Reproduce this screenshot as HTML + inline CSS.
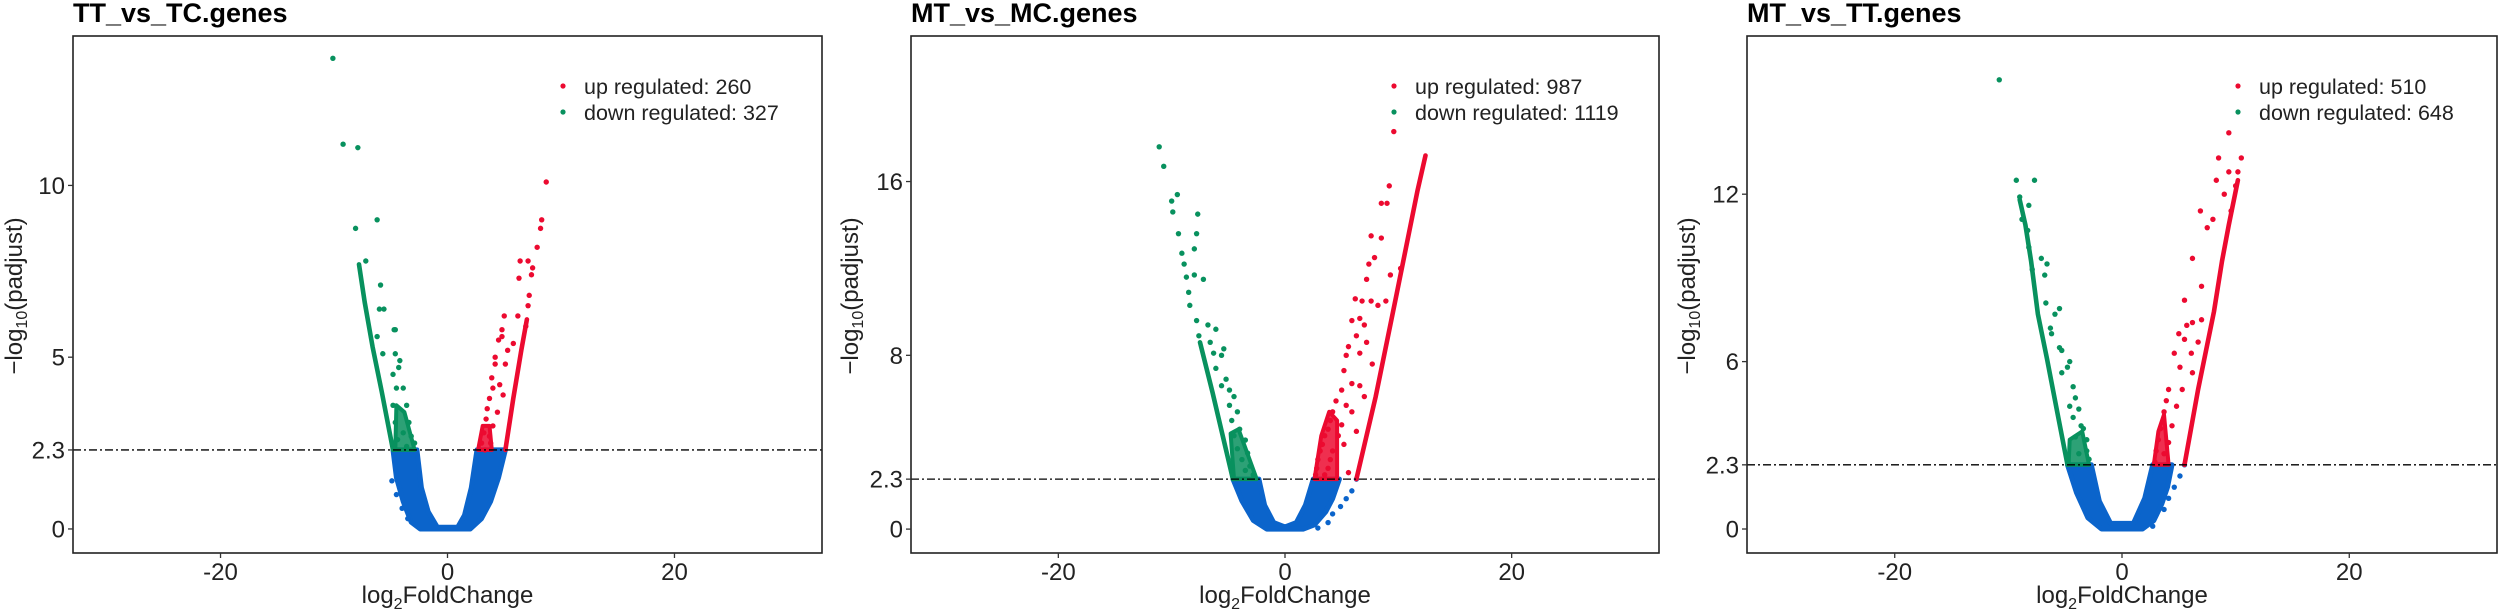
<!DOCTYPE html>
<html><head><meta charset="utf-8"><style>
html,body{margin:0;padding:0;background:#fff;}
svg{display:block;font-family:"Liberation Sans",Arial,sans-serif;}
</style></head><body>
<svg id="chart" width="2500" height="611" viewBox="0 0 2500 611" xmlns="http://www.w3.org/2000/svg"></svg>
<script>
// ---------- data (log2FoldChange, -log10 padjust) ----------
const titles = ["TT_vs_TC.genes","MT_vs_MC.genes","MT_vs_TT.genes"];
const upCounts = [260, 987, 510];
const downCounts = [327, 1119, 648];
const xTickLabels = [-20, 0, 20];
const yTicks1 = [0, 2.3, 5, 10];
const yTicks2 = [0, 2.3, 8, 16];
const yTicks3 = [0, 2.3, 6, 12];
const threshold = 2.3;

// blue (not significant) region outlines
const blue1 = [[-4.8,2.3],[-4.5,1.5],[-3.9,0.8],[-3.2,0.2],[-2.4,0],[2.0,0],[3.0,0.3],[3.8,0.8],[4.5,1.5],[5.1,2.3],[2.6,2.3],[2.1,1.2],[1.5,0.4],[0.9,0.05],[-0.9,0.05],[-1.7,0.5],[-2.3,1.2],[-2.7,2.3]];
const blue2 = [[-4.6,2.3],[-3.8,1.3],[-2.8,0.4],[-1.6,0],[1.6,0],[2.6,0.2],[3.6,0.8],[4.2,1.4],[4.8,2.3],[2.5,2.3],[1.8,1.1],[1,0.3],[0,0.1],[-1,0.3],[-1.8,1.1],[-2.3,2.3]];
const blue3 = [[-4.8,2.3],[-4.0,1.3],[-3.0,0.4],[-1.8,0],[1.8,0],[2.8,0.3],[3.5,0.9],[4.0,1.5],[4.4,2.3],[2.7,2.3],[2.0,1.1],[1.0,0.2],[-1.0,0.2],[-2.0,1.0],[-2.7,2.3]];
const blueDots1 = [[-4.9,1.4],[-4.5,1.0],[-4.0,0.6],[-3.5,0.3]];
const blueDots2 = [[6.3,2.3],[5.9,1.76],[5.4,1.4],[4.9,1.04],[4.2,0.7],[3.8,0.3],[2.9,0.05]];
const blueDots3 = [[5.5,2.3],[5.1,1.9],[4.6,1.5],[4.1,1.1],[3.7,0.7],[2.7,0.1]];

// dense edges of significant genes
const greenEdge1 = [[-4.8,2.3],[-5.8,4],[-6.6,5.3],[-7.3,6.6],[-7.8,7.7]];
const greenEdge2 = [[-4.6,2.3],[-5.5,4.3],[-6.4,6.3],[-7.5,8.6]];
const greenEdge3 = [[-4.8,2.3],[-5.7,4.2],[-6.6,6.1],[-7.4,7.7],[-8.0,9.6],[-8.5,10.9],[-9.0,11.8]];
const redEdge1 = [[5.1,2.3],[5.8,3.8],[6.5,5.2],[7.0,6.1]];
const redEdge2 = [[6.3,2.3],[8.0,6.1],[9.8,10.7],[11.0,13.8],[11.7,15.6],[12.4,17.2]];
const redEdge3 = [[5.5,2.3],[6.7,5.0],[8.1,7.8],[8.8,9.6],[9.4,10.9],[10.2,12.5]];
const greenCluster1 = [[-4.6,2.3],[-4.5,3.6],[-3.8,3.4],[-2.9,2.3]];
const greenCluster2 = [[-4.5,2.3],[-4.8,4.4],[-4.1,4.6],[-2.5,2.3]];
const greenCluster3 = [[-4.7,2.3],[-4.6,3.2],[-3.5,3.5],[-2.9,2.3]];
const redCluster1 = [[2.7,2.3],[3.1,3.0],[3.7,3.0],[3.9,2.3]];
const redCluster2 = [[2.6,2.3],[3.2,4.3],[3.9,5.4],[4.6,5.0],[4.6,2.3]];
const redCluster3 = [[2.8,2.3],[3.2,3.5],[3.7,4.1],[4.1,2.3]];

// scattered significant genes
const green1 = [[-10.1,13.7],[-9.2,11.2],[-7.9,11.1],[-6.2,9.0],[-8.1,8.75],[-7.2,7.8],[-5.9,7.1],[-6.0,6.4],[-5.6,6.4],[-6.2,5.6],[-4.7,5.8],[-4.6,5.8],[-5.7,5.1],[-4.6,5.1],[-4.2,4.9],[-4.8,4.5],[-4.3,4.7],[-4.5,4.1],[-3.9,4.1],[-4.8,3.6],[-3.6,3.6],[-4.6,3.1],[-3.4,3.1],[-3.9,2.8],[-3.2,2.7],[-4.4,2.6],[-2.9,2.5],[-3.6,2.4]];
const green2 = [[-11.1,17.6],[-10.7,16.7],[-9.5,15.4],[-10.0,15.1],[-9.9,14.6],[-7.7,14.5],[-9.4,13.6],[-7.8,13.6],[-8.0,12.9],[-9.1,12.7],[-8.9,12.2],[-8.0,11.7],[-7.2,11.5],[-8.7,11.6],[-8.5,10.9],[-8.4,10.3],[-7.8,9.6],[-6.8,9.4],[-6.1,9.2],[-7.6,8.9],[-6.6,8.6],[-5.4,8.3],[-6.3,8.1],[-5.6,8.0],[-6.1,7.4],[-5.2,6.9],[-5.6,6.6],[-4.9,6.4],[-4.5,6.1],[-4.9,5.7],[-4.2,5.4],[-4.7,5.0],[-4.0,4.6],[-4.5,4.3],[-3.5,4.1],[-4.2,3.7],[-3.3,3.5],[-3.8,3.2],[-3.1,2.9],[-3.5,2.7],[-2.8,2.5]];
const green3 = [[-10.8,16.1],[-9.3,12.5],[-7.7,12.5],[-9.0,11.9],[-8.2,11.6],[-8.8,11.1],[-8.3,10.7],[-8.2,10.1],[-7.1,9.7],[-6.6,9.5],[-7.9,9.3],[-6.8,9.1],[-6.7,8.1],[-5.5,7.9],[-5.9,7.7],[-6.3,7.2],[-6.2,7.0],[-5.5,6.5],[-5.3,6.4],[-4.6,6.0],[-4.8,5.8],[-5.3,5.6],[-4.3,5.1],[-4.1,4.7],[-4.6,4.4],[-3.8,4.3],[-4.3,4.0],[-3.6,3.7],[-3.4,3.6],[-4.1,3.3],[-3.1,3.2],[-3.8,2.7],[-3.1,2.8],[-2.9,2.5]];
const red1 = [[8.7,10.1],[8.3,9.0],[8.2,8.75],[7.9,8.2],[6.4,7.8],[7.1,7.8],[7.5,7.6],[6.3,7.3],[7.4,7.4],[7.2,6.8],[7.1,6.5],[5.0,6.2],[6.2,6.2],[6.9,5.9],[4.8,5.8],[4.8,5.6],[5.8,5.4],[4.5,5.5],[5.3,5.2],[4.2,5.0],[5.1,4.8],[4.2,4.8],[3.9,4.4],[4.6,4.2],[4.0,4.1],[3.7,3.8],[4.9,3.9],[3.5,3.5],[4.4,3.4],[3.4,3.2],[4.0,3.0],[3.2,2.8],[3.7,2.7],[3.0,2.5],[3.8,2.5],[3.3,2.3]];
const red2 = [[9.6,18.3],[9.2,15.8],[8.5,15.0],[9.0,15.0],[7.6,13.5],[8.5,13.4],[7.9,12.5],[7.4,12.2],[9.3,11.7],[7.2,11.5],[10.2,12.0],[8.9,10.5],[6.2,10.6],[6.8,10.5],[7.6,10.5],[8.2,10.3],[6.6,9.7],[5.9,9.6],[7.0,9.4],[6.3,8.9],[5.6,8.4],[7.2,8.6],[6.6,8.1],[7.7,7.6],[5.4,8.0],[5.2,7.3],[5.9,6.7],[5.0,6.4],[6.6,6.6],[7.0,6.1],[4.5,5.9],[5.4,5.7],[4.2,5.4],[5.9,5.4],[4.0,5.0],[5.0,4.8],[3.8,4.6],[6.3,4.5],[3.5,4.3],[4.7,4.3],[3.3,3.9],[5.2,3.9],[3.1,3.6],[4.2,3.6],[2.9,3.2],[4.0,3.2],[2.8,2.8],[3.8,2.8],[2.7,2.5],[3.5,2.5],[5.6,2.6]];
const red3 = [[9.4,14.2],[8.5,13.3],[10.5,13.3],[9.4,12.8],[8.3,12.5],[10.2,12.8],[9.0,12.0],[10.0,12.3],[6.9,11.4],[8.0,11.1],[9.6,11.4],[7.5,10.8],[6.2,9.7],[7.0,8.7],[5.5,8.2],[5.7,7.3],[6.2,7.4],[7.0,7.5],[5.0,7.0],[5.5,6.8],[6.7,6.7],[4.6,6.3],[6.1,6.3],[5.1,5.8],[6.2,5.6],[4.1,5.0],[5.3,5.0],[3.9,4.6],[4.8,4.4],[3.7,4.2],[4.4,3.7],[3.4,3.6],[3.2,3.2],[4.1,3.1],[3.0,2.8],[3.7,2.7],[2.9,2.4]];

// ---------- layout ----------
const panels = [
  {title:titles[0], left:73, right:822, yDom:[-0.70,14.35], yTicks:yTicks1, up:upCounts[0], down:downCounts[0], yTitleX:14, legX:563,
   blue:blue1, blueDots:blueDots1, gE:greenEdge1, rE:redEdge1, gC:greenCluster1, rC:redCluster1, g:green1, r:red1},
  {title:titles[1], left:911, right:1659, yDom:[-1.10,22.70], yTicks:yTicks2, up:upCounts[1], down:downCounts[1], yTitleX:850, legX:1394,
   blue:blue2, blueDots:blueDots2, gE:greenEdge2, rE:redEdge2, gC:greenCluster2, rC:redCluster2, g:green2, r:red2},
  {title:titles[2], left:1747, right:2497, yDom:[-0.86,17.67], yTicks:yTicks3, up:upCounts[2], down:downCounts[2], yTitleX:1687, legX:2238,
   blue:blue3, blueDots:blueDots3, gE:greenEdge3, rE:redEdge3, gC:greenCluster3, rC:redCluster3, g:green3, r:red3}
];
const TOP=36, BOTTOM=553, XDOM=[-33,33];
const RED="#ec0a30", GREEN="#08915e", BLUE="#0b64cb", R=2.7;
const NS="http://www.w3.org/2000/svg";
const svg=document.getElementById("chart");
function el(tag, attrs, parent){const e=document.createElementNS(NS,tag);for(const k in attrs)e.setAttribute(k,attrs[k]);(parent||svg).appendChild(e);return e;}

panels.forEach((p,pi)=>{
  const xs=v=>p.left+(v-XDOM[0])/(XDOM[1]-XDOM[0])*(p.right-p.left);
  const ys=v=>BOTTOM-(v-p.yDom[0])/(p.yDom[1]-p.yDom[0])*(BOTTOM-TOP);
  const g=el("g",{});
  
  
  const clipId="clip"+pi;
  const cp=el("clipPath",{id:clipId},g);
  el("rect",{x:p.left,y:TOP,width:p.right-p.left,height:BOTTOM-TOP},cp);
  const plot=el("g",{"clip-path":"url(#"+clipId+")"},g);
  const pts=a=>a.map(d=>xs(d[0]).toFixed(1)+","+ys(d[1]).toFixed(1)).join(" ");
  const bp=el("polygon",{points:pts(p.blue),fill:BLUE,stroke:BLUE,"stroke-width":5,"stroke-linejoin":"round"},plot);
  
  
  p.blueDots.forEach(d=>{const c=el("circle",{cx:xs(d[0]),cy:ys(d[1]),r:R,fill:BLUE},plot);
    
    });
  [[p.gC,GREEN,'down-regulated-cluster'],[p.rC,RED,'up-regulated-cluster']].forEach(([a,col,nm])=>{
    const c=el("polygon",{points:pts(a),fill:col,stroke:col,"stroke-width":4,"stroke-linejoin":"round","fill-opacity":0.85},plot);
    
    
  });
  [[p.gE,GREEN,'down-regulated-edge'],[p.rE,RED,'up-regulated-edge']].forEach(([a,col,nm])=>{
    const c=el("polyline",{points:pts(a),fill:"none",stroke:col,"stroke-width":4.6,"stroke-linecap":"round","stroke-linejoin":"round"},plot);
    
    
  });
  p.g.forEach(d=>{const c=el("circle",{cx:xs(d[0]),cy:ys(d[1]),r:R,fill:GREEN},plot);
    
    });
  p.r.forEach(d=>{const c=el("circle",{cx:xs(d[0]),cy:ys(d[1]),r:R,fill:RED},plot);
    
    });
  const th=el("line",{x1:p.left,x2:p.right,y1:ys(threshold),y2:ys(threshold),stroke:"#000","stroke-width":1.3,"stroke-dasharray":"8 3 2 3"},g);
  
  
  const fr=el("rect",{x:p.left,y:TOP,width:p.right-p.left,height:BOTTOM-TOP,fill:"none",stroke:"#222","stroke-width":1.6},g);
  
  
  p.yTicks.forEach(t=>{
    const y=ys(t);
    el("line",{x1:p.left-5,x2:p.left,y1:y,y2:y,stroke:"#333","stroke-width":1.3},g);
    const tx=el("text",{x:p.left-8,y:y+8.5,"text-anchor":"end","font-size":24,fill:"#222"},g);
    tx.textContent=String(t);
    
    
  });
  xTickLabels.forEach(t=>{
    const x=xs(t);
    el("line",{x1:x,x2:x,y1:BOTTOM,y2:BOTTOM+5,stroke:"#333","stroke-width":1.3},g);
    const tx=el("text",{x:x,y:580,"text-anchor":"middle","font-size":24,fill:"#222"},g);
    tx.textContent=String(t);
    
    
  });
  const tt=el("text",{x:p.left,y:22,"font-size":27,"font-weight":"bold",fill:"#000"},g);
  tt.textContent=p.title;
  
  
  const xt=el("text",{x:xs(0),y:603,"text-anchor":"middle","font-size":24,fill:"#222"},g);
  xt.innerHTML='log<tspan font-size="16" dy="6">2</tspan><tspan dy="-6">FoldChange</tspan>';
  
  
  const yt=el("text",{x:0,y:0,"text-anchor":"middle","font-size":24,fill:"#222",transform:"translate("+(p.yTitleX+8)+",296) rotate(-90)"},g);
  yt.innerHTML='\u2212log<tspan font-size="16" dy="5">10</tspan><tspan dy="-5">(padjust)</tspan>';
  
  
  const lg=el("g",{},g);
  
  
  [[RED,"up regulated: "+p.up,86,'legend-entry-up'],[GREEN,"down regulated: "+p.down,112,'legend-entry-down']].forEach(([col,txt,y,nm])=>{
    el("circle",{cx:p.legX,cy:y,r:2.6,fill:col},lg);
    const t=el("text",{x:p.legX+21,y:y+8,"font-size":21.5,fill:"#222"},lg);
    t.textContent=txt;
    
    
  });
});
</script>
</body></html>
